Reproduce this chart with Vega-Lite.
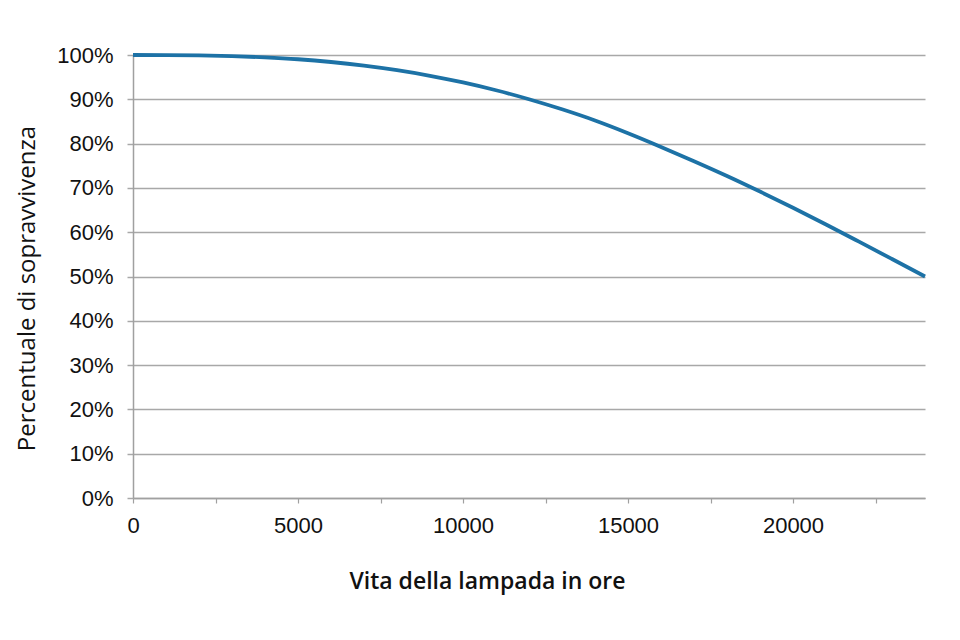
{
  "$schema": "https://vega.github.io/schema/vega-lite/v6.json",
  "autosize": "none",
  "width": 792,
  "height": 443,
  "padding": {"left": 133, "top": 55, "right": 35, "bottom": 142},
  "background": "white",
  "data": {"values": [
    {"ore": 0, "s": 1.0},
    {"ore": 1000, "s": 0.9999},
    {"ore": 2000, "s": 0.9992},
    {"ore": 3000, "s": 0.9976},
    {"ore": 4000, "s": 0.9947},
    {"ore": 5000, "s": 0.9904},
    {"ore": 6000, "s": 0.9842},
    {"ore": 7000, "s": 0.976},
    {"ore": 8000, "s": 0.9657},
    {"ore": 9000, "s": 0.9531},
    {"ore": 10000, "s": 0.938},
    {"ore": 11000, "s": 0.9204},
    {"ore": 12000, "s": 0.9002},
    {"ore": 13000, "s": 0.8774},
    {"ore": 14000, "s": 0.8522},
    {"ore": 15000, "s": 0.8235},
    {"ore": 16000, "s": 0.7926},
    {"ore": 17000, "s": 0.7604},
    {"ore": 18000, "s": 0.727},
    {"ore": 19000, "s": 0.6918},
    {"ore": 20000, "s": 0.6552},
    {"ore": 21000, "s": 0.6174},
    {"ore": 22000, "s": 0.5786},
    {"ore": 23000, "s": 0.5394},
    {"ore": 24000, "s": 0.5}
  ]},
  "mark": {"type": "line", "color": "#1d72a6", "strokeWidth": 3.8, "interpolate": "monotone"},
  "encoding": {
    "x": {
      "field": "ore", "type": "quantitative",
      "scale": {"domain": [0, 24000], "nice": false, "zero": true},
      "axis": {
        "title": "Vita della lampada in ore",
        "values": [0, 2500, 5000, 7500, 10000, 12500, 15000, 17500, 20000, 22500],
        "labelExpr": "datum.value % 5000 === 0 ? datum.value : ''",
        "grid": false,
        "domainColor": "#a0a0a0", "domainWidth": 1.5,
        "tickColor": "#a0a0a0", "tickWidth": 1.2, "tickSize": 5,
        "labelFont": "Liberation Sans", "labelFontSize": 22, "labelColor": "#111111",
        "labelPadding": 12, "labelFlush": false, "labelOverlap": false,
        "titleFont": "Open Sans", "titleFontSize": 23, "titleFontWeight": 600, "titleColor": "#111111",
        "titleX": 354, "titleY": 90, "titleBaseline": "alphabetic", "titleAnchor": "middle", "titleAlign": "center"
      }
    },
    "y": {
      "field": "s", "type": "quantitative",
      "scale": {"domain": [0, 1], "nice": false},
      "axis": {
        "title": "Percentuale di sopravvivenza",
        "values": [0, 0.1, 0.2, 0.3, 0.4, 0.5, 0.6, 0.7, 0.8, 0.9, 1.0],
        "format": ".0%",
        "grid": true, "gridColor": "#a8a8a8", "gridWidth": 1.5,
        "domainColor": "#a0a0a0", "domainWidth": 1.5,
        "tickColor": "#a8a8a8", "tickWidth": 1.5, "tickSize": 6,
        "labelFont": "Liberation Sans", "labelFontSize": 22, "labelColor": "#111111",
        "labelPadding": 14, "labelFlush": false, "labelOverlap": false,
        "titleFont": "Open Sans", "titleFontSize": 24, "titleFontWeight": "normal", "titleColor": "#111111",
        "titleAngle": -90, "titleX": -99, "titleY": 233, "titleBaseline": "alphabetic", "titleAlign": "center"
      }
    }
  },
  "config": {"view": {"stroke": null}}
}
